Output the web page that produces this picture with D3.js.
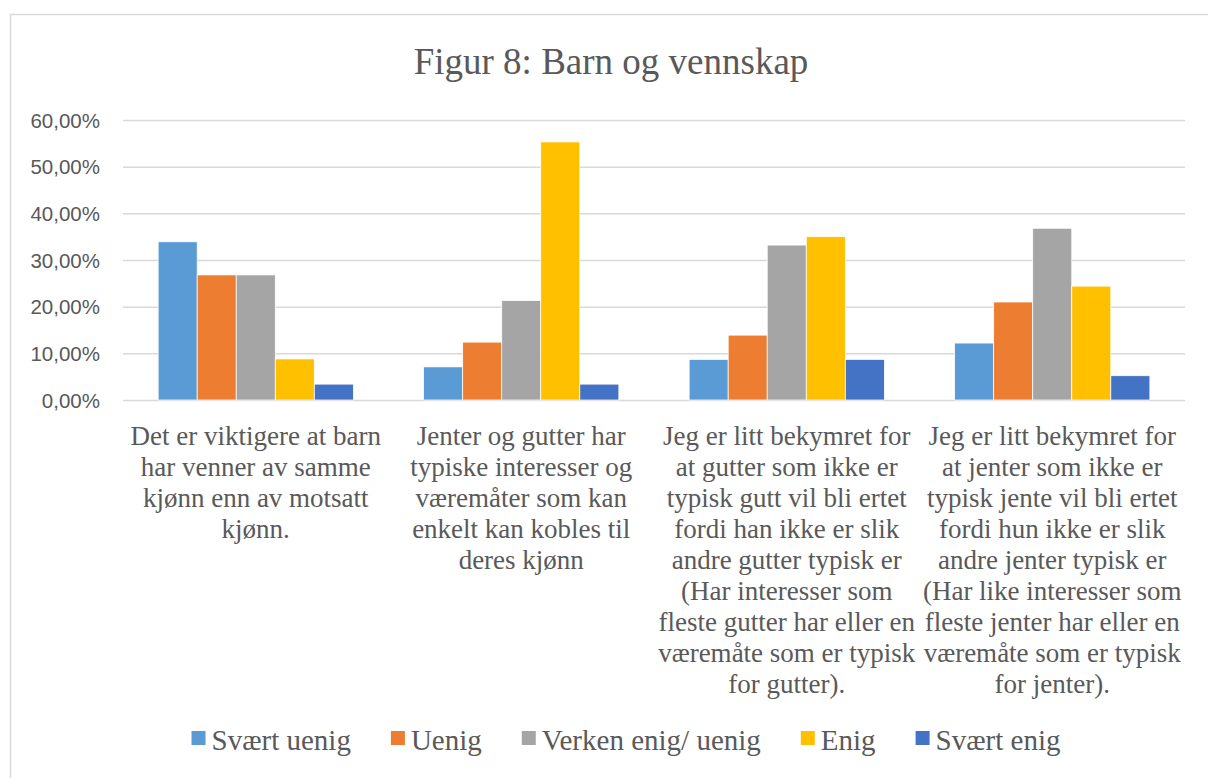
<!DOCTYPE html>
<html>
<head>
<meta charset="utf-8">
<script src="https://cdn.jsdelivr.net/npm/d3@7"></script>
<style>
  body { margin: 0; background: #fff; }
  svg { display: block; }
</style>
</head>
<body>
<div id="chart"></div>
<script>
const categories = ['c1', 'c2', 'c3', 'c4']
const categoryLines = [
  ['Det er viktigere at barn', 'har venner av samme', 'kjønn enn av motsatt', 'kjønn.'],
  ['Jenter og gutter har', 'typiske interesser og', 'væremåter som kan', 'enkelt kan kobles til', 'deres kjønn'],
  ['Jeg er litt bekymret for', 'at gutter som ikke er', 'typisk gutt vil bli ertet', 'fordi han ikke er slik', 'andre gutter typisk er', '(Har interesser som', 'fleste gutter har eller en', 'væremåte som er typisk', 'for gutter).'],
  ['Jeg er litt bekymret for', 'at jenter som ikke er', 'typisk jente vil bli ertet', 'fordi hun ikke er slik', 'andre jenter typisk er', '(Har like interesser som', 'fleste jenter har eller en', 'væremåte som er typisk', 'for jenter).']
]
const series = ['Svært uenig', 'Uenig', 'Verken enig/ uenig', 'Enig', 'Svært enig']
const colors = ['#5B9BD5', '#ED7D31', '#A5A5A5', '#FFC000', '#4472C4']
// one array per series, one value per category (in %)
const svaertUenig = [33.9, 7.1, 8.7, 12.2]
const uenig = [26.8, 12.4, 13.9, 21.0]
const verken = [26.8, 21.3, 33.2, 36.8]
const enig = [8.8, 55.3, 35.0, 24.4]
const svaertEnig = [3.4, 3.4, 8.7, 5.2]
const yTicks = [0, 10, 20, 30, 40, 50, 60]

const values = [svaertUenig, uenig, verken, enig, svaertEnig]

const WIDTH = 1208
const HEIGHT = 778
const SERIF = '"Liberation Serif", "Times New Roman", serif'
const SANS = '"Liberation Sans", Arial, sans-serif'
const TEXT = '#595959'

const svg = d3.select('#chart').append('svg')
                               .attr('width', WIDTH)
                               .attr('height', HEIGHT)

svg.append('rect')
     .attr('x', 10.5)
     .attr('y', 14.5)
     .attr('width', 1220)
     .attr('height', 800)
     .attr('fill', '#fff')
     .attr('stroke', '#d9d9d9')
     .attr('stroke-width', 1.5)

svg.append('text')
     .attr('x', 611)
     .attr('y', 74)
     .attr('text-anchor', 'middle')
     .attr('font-family', SERIF)
     .attr('font-size', 37)
     .attr('fill', TEXT)
     .text('Figur 8: Barn og vennskap')

const x0 = d3.scaleBand()
             .domain(categories)
             .range([123, 1185])
const x1 = d3.scaleBand()
             .domain(series)
             .range([0, x0.bandwidth()])
             .paddingOuter(0.9)
const y = d3.scaleLinear()
            .domain([0, 60])
            .range([400, 120])

// grid + tick labels
const yAxis = d3.axisLeft(y)
                .tickValues(yTicks)
                .tickSize(-(1185 - 123))
                .tickFormat(d => d3.format('.2f')(d).replace('.', ',') + '%')
const gy = svg.append('g')
                .attr('transform', 'translate(123,0)')
                .call(yAxis)
gy.select('.domain').remove()
gy.selectAll('.tick line')
    .attr('stroke', '#d9d9d9')
    .attr('stroke-width', 1.5)
gy.selectAll('.tick text')
    .attr('x', -23)
    .attr('dy', '0.35em')
    .attr('font-family', SANS)
    .attr('font-size', 20.5)
    .attr('fill', TEXT)

// bars
const groups = svg.selectAll('g.cat')
                  .data(categories)
                  .enter()
                    .append('g')
                    .attr('class', 'cat')
                    .attr('transform', d => `translate(${x0(d)},0)`)

groups.selectAll('rect')
        .data((d, i) => series.map((s, j) => ({ s, j, v: values[j][i] })))
        .enter()
          .append('rect')
          .attr('x', d => x1(d.s))
          .attr('y', d => y(d.v))
          .attr('width', x1.bandwidth())
          .attr('height', d => y(0) - y(d.v))
          .attr('fill', d => colors[d.j])
          .attr('stroke', '#fff')
          .attr('stroke-width', 0.75)

// category labels
groups.append('text')
        .attr('text-anchor', 'middle')
        .attr('font-family', SERIF)
        .attr('font-size', 27)
        .attr('fill', TEXT)
        .selectAll('tspan')
        .data((d, i) => categoryLines[i])
        .enter()
          .append('tspan')
          .attr('x', x0.bandwidth() / 2)
          .attr('y', (d, i) => 445 + i * 31)
          .text(d => d)

// legend
const GAP = 40
const legend = svg.append('g')
const items = legend.selectAll('g')
                    .data(series)
                    .enter()
                      .append('g')
items.append('rect')
       .attr('x', 0)
       .attr('y', 731)
       .attr('width', 14)
       .attr('height', 14)
       .attr('fill', (d, i) => colors[i])
const itemText = items.append('text')
                        .attr('x', 20)
                        .attr('y', 750)
                        .attr('font-family', SERIF)
                        .attr('font-size', 29)
                        .attr('fill', TEXT)
                        .text(d => d)
let cursor = 0
items.each(function (d, i) {
  d3.select(this).attr('transform', `translate(${cursor},0)`)
  cursor += 20 + itemText.nodes()[i].getComputedTextLength() + GAP
})
const legendWidth = cursor - GAP
legend.attr('transform', `translate(${626 - legendWidth / 2},0)`)
</script>
</body>
</html>
